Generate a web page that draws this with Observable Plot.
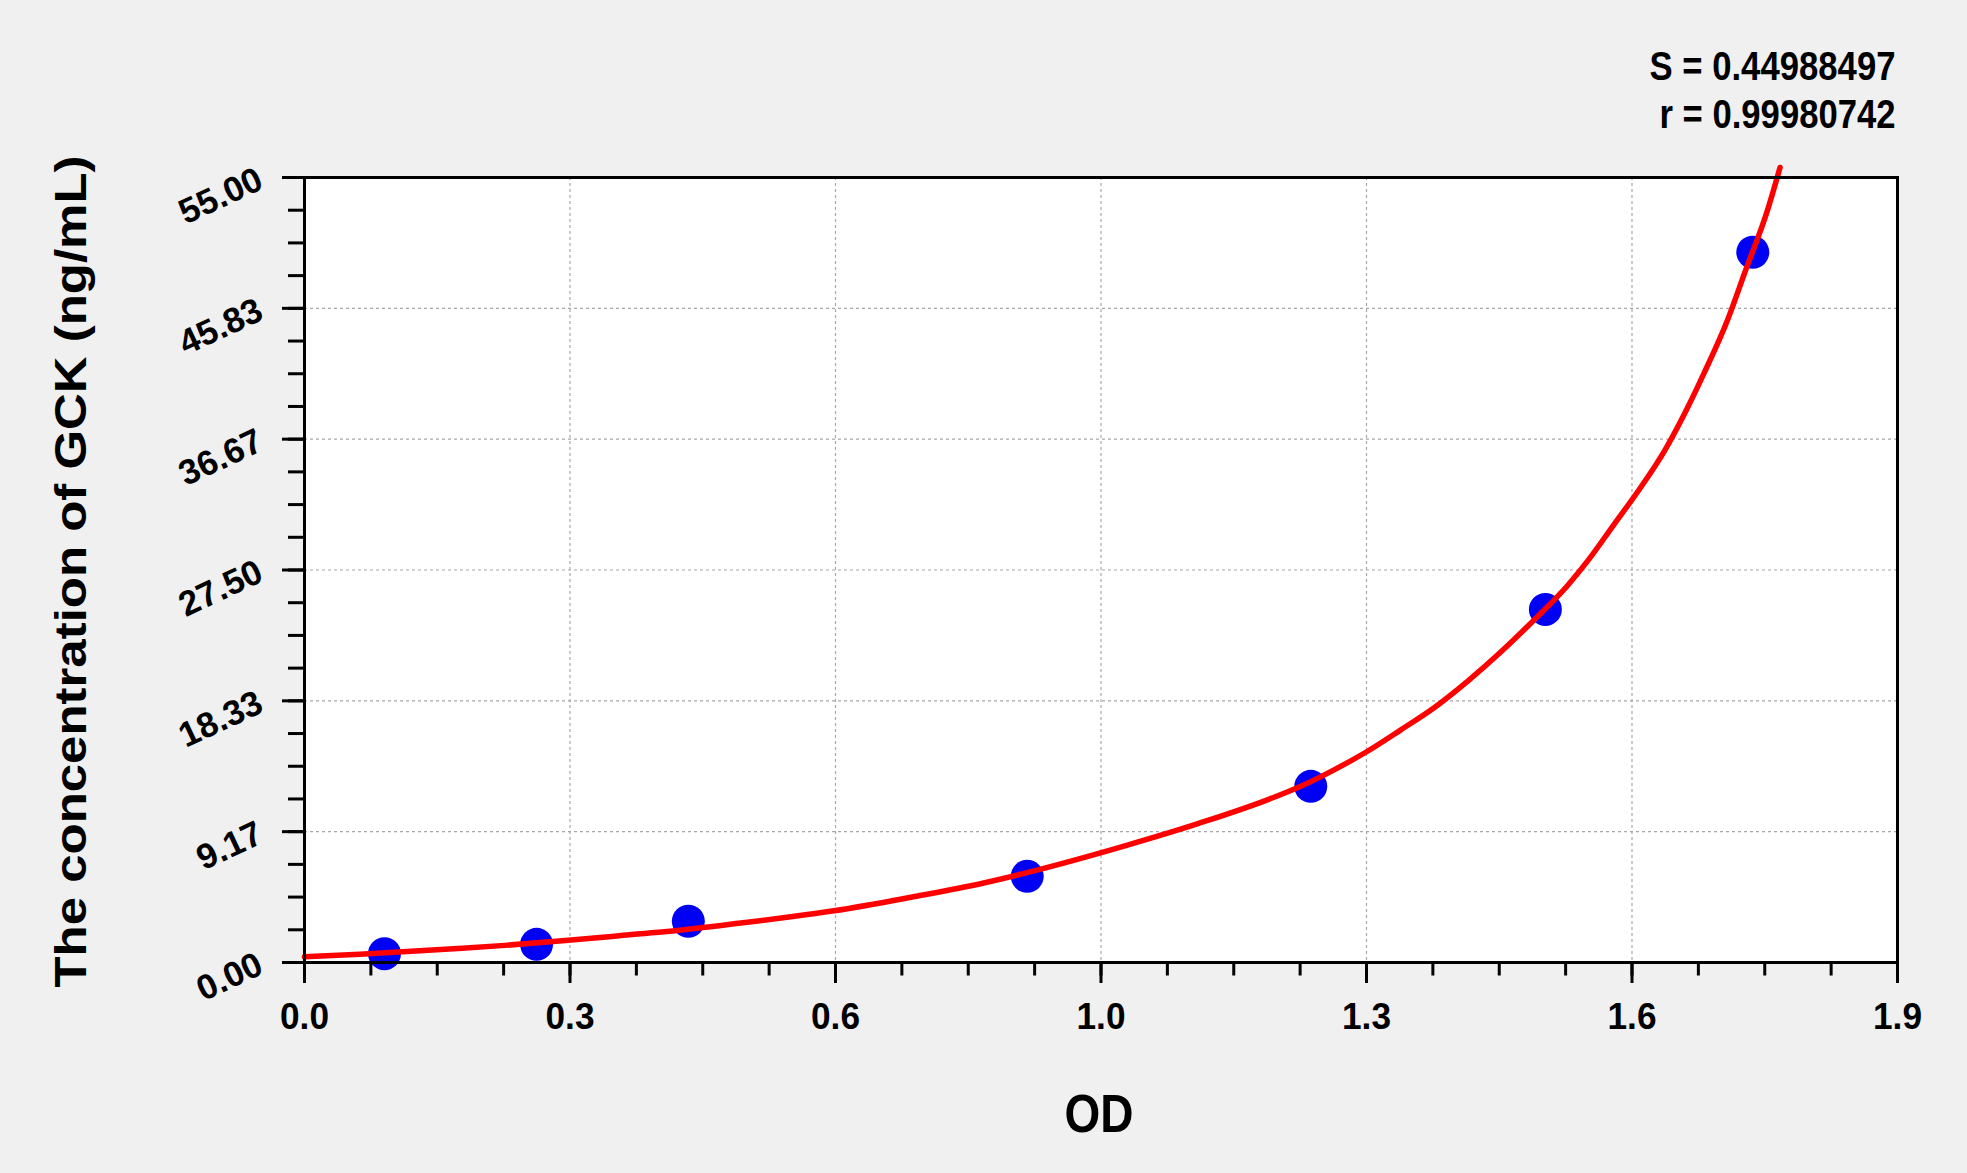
<!DOCTYPE html>
<html>
<head>
<meta charset="utf-8">
<script src="https://cdn.jsdelivr.net/npm/d3@7"></script>
<script src="https://cdn.jsdelivr.net/npm/@observablehq/plot@0.6"></script>
<style>
  html, body { margin: 0; padding: 0; background: #f0f0f0; }
  #chart svg { display: block; }
</style>
</head>
<body>
<div id="chart"></div>
<script>
// Standard points (OD vs concentration)
const odValues   = [0.0954, 0.2768, 0.4578, 0.862, 1.2002, 1.4800, 1.7274];
const concValues = [0.62, 1.27, 2.89, 6.04, 12.34, 24.74, 49.76];

// Fitted curve
const curveOD   = [0.000, 0.066, 0.132, 0.188, 0.239, 0.3075, 0.3757, 0.4523, 0.5205, 0.5801, 0.6313, 0.7249, 0.8101, 0.8953, 0.9805, 1.0656, 1.1508, 1.1883, 1.228, 1.2678, 1.3076, 1.3473, 1.3871, 1.4268, 1.4665, 1.5063, 1.530, 1.562, 1.5938, 1.6216, 1.6455, 1.6693, 1.6972, 1.7182, 1.7449, 1.7599];
const curveConc = [0.40, 0.58, 0.80, 1.00, 1.20, 1.52, 1.88, 2.30, 2.77, 3.20, 3.62, 4.59, 5.57, 6.81, 8.21, 9.73, 11.45, 12.35, 13.50, 14.80, 16.30, 17.85, 19.70, 21.75, 24.00, 26.40, 28.10, 30.70, 33.30, 35.80, 38.40, 41.30, 45.00, 48.40, 52.70, 55.70];

// Axes
const xTickValues = [0, 0.31667, 0.63333, 0.95, 1.26667, 1.58333, 1.9];
const xTickLabels = ["0.0", "0.3", "0.6", "1.0", "1.3", "1.6", "1.9"];
const yTickValues = [0, 9.16667, 18.33333, 27.5, 36.66667, 45.83333, 55];
const yTickLabels = ["0.00", "9.17", "18.33", "27.50", "36.67", "45.83", "55.00"];
const xMinorCount = 24;
const yMinorCount = 24;

const xTitle = "OD";
const yTitle = "The concentration of GCK (ng/mL)";
const statS = "S = 0.44988497";
const statR = "r = 0.99980742";

const points = odValues.map((x, i) => ({x, y: concValues[i]}));
const curve = curveOD.map((x, i) => ({x, y: curveConc[i]}));
const xMinor = d3.range(0, xMinorCount + 1).map(i => i * 1.9 / xMinorCount);
const yMinor = d3.range(0, yMinorCount + 1).map(i => i * 55 / yMinorCount);

const plot = Plot.plot({
  width: 1967,
  height: 1173,
  marginLeft: 304,
  marginRight: 70,
  marginTop: 177,
  marginBottom: 211,
  x: {domain: [0, 1.9]},
  y: {domain: [0, 55]},
  style: {background: "#f0f0f0", fontFamily: "Arial, 'Liberation Sans', sans-serif", color: "black", overflow: "visible"},
  marks: [
    Plot.frame({fill: "white", stroke: null}),
    Plot.gridX(xTickValues.slice(1, -1), {stroke: "#a8a8a8", strokeOpacity: 1, strokeWidth: 1.2, strokeDasharray: "3,3"}),
    Plot.gridY(yTickValues.slice(1, -1), {stroke: "#a8a8a8", strokeOpacity: 1, strokeWidth: 1.2, strokeDasharray: "3,3"}),
    Plot.dot(points, {x: "x", y: "y", r: 16.5, fill: "#0000f5", stroke: null}),
    Plot.line(curve, {x: "x", y: "y", stroke: "#ff0000", strokeWidth: 5.5, curve: "monotone-x"}),
    Plot.frame({stroke: "black", strokeWidth: 3}),
    Plot.axisX(xMinor, {tickSize: 13.5, tickFormat: () => "", strokeWidth: 3, label: null}),
    Plot.axisX(xTickValues, {tickSize: 21, tickPadding: 19, strokeWidth: 3, label: null,
      tickFormat: d => xTickLabels[xTickValues.indexOf(d)], fontSize: 37, fontWeight: "bold"}),
    Plot.axisY(yMinor, {tickSize: 16, tickFormat: () => "", strokeWidth: 3, label: null}),
    Plot.axisY(yTickValues, {tickSize: 22, tickPadding: 22, tickRotate: -25, strokeWidth: 3, label: null,
      tickFormat: d => yTickLabels[yTickValues.indexOf(d)], fontSize: 35, fontWeight: "bold"}),
    Plot.text([statS], {text: d => d, frameAnchor: "top-right", dx: -2, dy: -98, textAnchor: "end", lineAnchor: "bottom", fontSize: 40, fontWeight: "bold", className: "statS"}),
    Plot.text([statR], {text: d => d, frameAnchor: "top-right", dx: -2, dy: -50, textAnchor: "end", lineAnchor: "bottom", fontSize: 40, fontWeight: "bold", className: "statR"}),
    Plot.text([xTitle], {text: d => d, frameAnchor: "bottom", dx: -2, dy: 169, lineAnchor: "bottom", fontSize: 53, fontWeight: "bold", className: "xtitle"}),
    Plot.text([yTitle], {text: d => d, frameAnchor: "bottom-left", dx: -219, dy: 25, rotate: -90, textAnchor: "start", lineAnchor: "bottom", fontSize: 45, fontWeight: "bold", className: "ytitle"})
  ]
});
document.getElementById("chart").appendChild(plot);

// Narrow the bold glyphs like the original rendering
const svg = d3.select(plot);
function fit(sel, len) {
  sel.attr("textLength", len).attr("lengthAdjust", "spacingAndGlyphs");
}
fit(svg.selectAll(".statS text"), 246);
fit(svg.selectAll(".statR text"), 236);
fit(svg.selectAll(".xtitle text"), 69);
fit(svg.selectAll(".ytitle text"), 832);
fit(svg.selectAll('g[aria-label="x-axis tick label"] text').filter(function() { return this.textContent.length > 0; }), 49);
</script>
</body>
</html>
